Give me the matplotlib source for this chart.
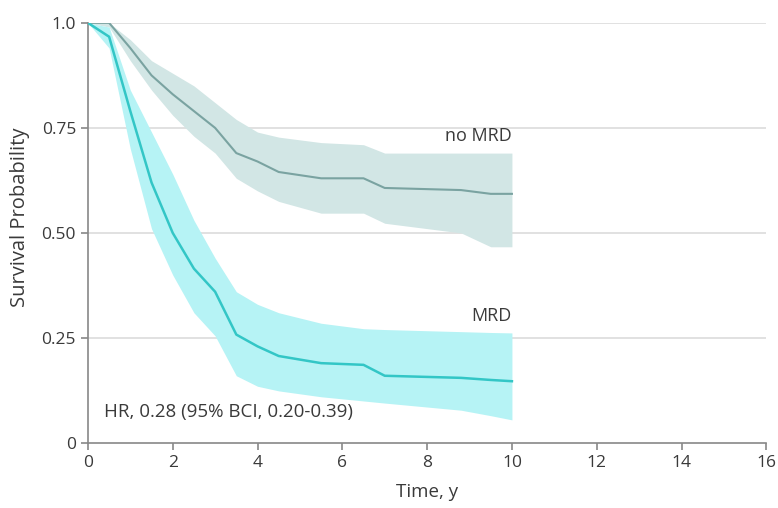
import numpy as np
import matplotlib.pyplot as plt

# time points (years)
zaman = [0, 0.5, 1, 1.5, 2, 2.5, 3, 3.5, 4, 4.5, 5.5, 6.5, 7, 8.8, 9.5, 10]

# no MRD group
nomrd = [1.0, 1.0, 0.94, 0.875, 0.83, 0.79, 0.75, 0.69, 0.67, 0.645, 0.63, 0.63, 0.607, 0.602, 0.593, 0.593]
nomrd_ust = [1.0, 1.0, 0.96, 0.91, 0.88, 0.85, 0.81, 0.77, 0.74, 0.728, 0.715, 0.71, 0.69, 0.69, 0.69, 0.69]
nomrd_alt = [1.0, 0.99, 0.91, 0.84, 0.78, 0.73, 0.69, 0.63, 0.60, 0.575, 0.547, 0.547, 0.523, 0.50, 0.467, 0.467]

# MRD group
mrd = [1.0, 0.967, 0.79, 0.62, 0.50, 0.415, 0.36, 0.258, 0.23, 0.207, 0.19, 0.186, 0.16, 0.155, 0.15, 0.147]
mrd_ust = [1.0, 0.99, 0.84, 0.74, 0.64, 0.53, 0.44, 0.36, 0.33, 0.31, 0.285, 0.272, 0.27, 0.265, 0.263, 0.262]
mrd_alt = [1.0, 0.94, 0.70, 0.51, 0.40, 0.31, 0.255, 0.16, 0.135, 0.124, 0.11, 0.10, 0.095, 0.078, 0.065, 0.055]

xtik = [0, 2, 4, 6, 8, 10, 12, 14, 16]
ytik = [0, 0.25, 0.5, 0.75, 1.0]
ytik_etiket = ['0', '0.25', '0.50', '0.75', '1.0']

plt.rcParams['font.family'] = ['Open Sans', 'DejaVu Sans']
yazi = '#3a3a3a'

fig = plt.figure(figsize=(7.78, 5.08), dpi=100)
ax = fig.add_axes([0.113, 0.128, 0.872, 0.827])

for y in ytik[1:]:
    ax.axhline(y, color='#dcdcdc', lw=1.2, zorder=0)

ax.fill_between(zaman, nomrd_alt, nomrd_ust, color='#d2e6e5', lw=0, zorder=1)
ax.fill_between(zaman, mrd_alt, mrd_ust, color='#b6f3f5', lw=0, zorder=2)
ax.plot(zaman, nomrd, color='#7aa3a1', lw=1.5, zorder=3)
ax.plot(zaman, mrd, color='#33c6c6', lw=1.8, zorder=4)

ax.text(10, 0.73, 'no MRD', ha='right', va='center', fontsize=13, color=yazi)
ax.text(10, 0.302, 'MRD', ha='right', va='center', fontsize=13, color=yazi)
ax.text(0.38, 0.074, 'HR, 0.28 (95% BCI, 0.20-0.39)', ha='left', va='center',
        fontsize=13.5, color=yazi)

ax.set_xlim(0, 16)
ax.set_ylim(0, 1.0)
ax.set_xticks(xtik)
ax.set_yticks(ytik)
ax.set_yticklabels(ytik_etiket)
ax.tick_params(colors='#888888', labelcolor=yazi, labelsize=12.5, length=5, width=1.2)
for s in ['top', 'right']:
    ax.spines[s].set_visible(False)
for s in ['left', 'bottom']:
    ax.spines[s].set_color('#888888')
    ax.spines[s].set_linewidth(1.2)

fig.text(0.549, 0.031, 'Time, y', ha='center', va='center', fontsize=13.5, color=yazi)
fig.text(0.026, 0.573, 'Survival Probability', ha='center', va='center', rotation=90,
         fontsize=14.5, color=yazi)

plt.savefig('out.png', dpi=100)
